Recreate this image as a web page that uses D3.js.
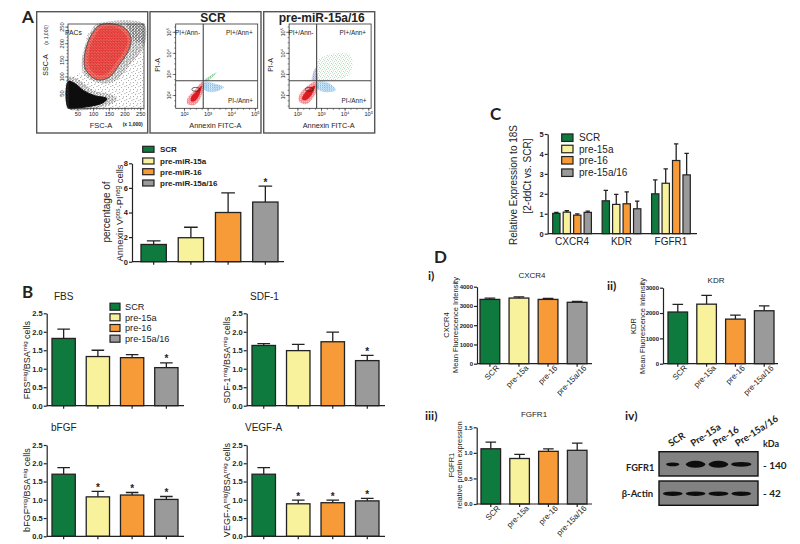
<!DOCTYPE html>
<html>
<head>
<meta charset="utf-8">
<script src="https://cdnjs.cloudflare.com/ajax/libs/d3/7.8.5/d3.min.js"></script>
<style>
  html, body { margin: 0; padding: 0; background: #fff; }
  svg { display: block; }
  text { font-family: "Liberation Sans", Arial, sans-serif; fill: #222; }
  .lato { font-family: Lato, "Open Sans", sans-serif; font-weight: 700; }
</style>
</head>
<body>
<svg id="fig" width="800" height="544"></svg>
<script>
// groups
const longNames = ["SCR", "pre-miR-15a", "pre-miR-16", "pre-miR-15a/16"];
const shortNames = ["SCR", "pre-15a", "pre-16", "pre-15a/16"];
const barColors = ["#0f7a3e", "#f8f29c", "#f79a38", "#9a9a9a"];

// A, bar chart
const annexinMeans = [1.4, 1.95, 4.0, 4.85];
const annexinErrs = [0.3, 0.85, 1.6, 1.3];
const annexinStars = ["pre-miR-15a/16"];

// B
const fbsMeans = [1.82, 1.33, 1.3, 1.03];
const fbsErrs = [0.25, 0.17, 0.08, 0.13];
const fbsStars = ["pre-15a/16"];
const sdfMeans = [1.63, 1.49, 1.73, 1.22];
const sdfErrs = [0.05, 0.17, 0.26, 0.14];
const sdfStars = ["pre-15a/16"];
const bfgfMeans = [1.7, 1.08, 1.13, 1.01];
const bfgfErrs = [0.18, 0.15, 0.07, 0.08];
const bfgfStars = ["pre-15a", "pre-16", "pre-15a/16"];
const vegfMeans = [1.7, 0.89, 0.92, 0.97];
const vegfErrs = [0.18, 0.1, 0.07, 0.07];
const vegfStars = ["pre-15a", "pre-16", "pre-15a/16"];

// C
const genes = ["CXCR4", "KDR", "FGFR1"];
const expressionMeans = [[1.02, 1.08, 0.93, 1.07], [1.65, 1.47, 1.5, 1.25], [2.0, 2.53, 3.67, 2.95]];
const expressionErrs = [[0.05, 0.07, 0.06, 0.06], [0.52, 0.5, 0.6, 0.38], [0.7, 0.72, 0.83, 1.08]];

// D
const cxcrMeans = [3340, 3410, 3340, 3190];
const cxcrErrs = [70, 60, 50, 40];
const kdrMeans = [2040, 2350, 1760, 2090];
const kdrErrs = [300, 350, 160, 190];
const fgfrMeans = [1.08, 0.89, 1.03, 1.05];
const fgfrErrs = [0.13, 0.08, 0.05, 0.14];

// D iv, blot
const lanes = ["SCR", "Pre-15a", "Pre-16", "Pre-15a/16"];
const fgfrBand = [0.62, 0.92, 0.92, 0.95];
const fgfrBandThick = [0.55, 1, 1, 0.7];
const actinBand = [0.92, 0.92, 0.94, 0.92];
const actinBandThick = [0.65, 0.65, 0.65, 0.65];

// A, flow plots. outlines, FSC/SSC in thousands
const fscTicks = [50, 100, 150, 200, 250];
const sscTicks = [50, 100, 150, 200, 250];
const pacsGate = [[122, 255], [165, 258], [202, 245], [221, 215], [213, 179], [186, 139], [149, 96], [112, 90], [80, 114], [71, 144], [82, 199], [101, 235]];
const pacsCore = [[125, 245], [165, 250], [195, 235], [210, 210], [200, 180], [175, 145], [145, 110], [115, 105], [90, 125], [85, 150], [92, 195], [108, 225]];
const debrisCloud = [[21, 85], [43, 78], [69, 58], [101, 43], [144, 33], [130, 20], [90, 10], [50, 5], [21, 5]];
const debrisHalo = [[21, 98], [58, 88], [101, 58], [165, 43], [175, 28], [122, 7], [21, 4]];
const sparseCloud = [[21, 93], [69, 114], [80, 230], [122, 258], [262, 258], [262, 4], [21, 4]];
const haloCloud = [[112, 258], [262, 258], [262, 190], [230, 150], [165, 84], [112, 82], [70, 108], [64, 149], [78, 205], [95, 240]];
const cornerCloud = [[205, 258], [262, 258], [262, 200], [232, 205]];

// annexin/PI outlines, log10 of the signal
const decades = [2, 3, 4, 5];
const decadeLabels = ["10²", "10³", "10⁴", "10⁵"];
const quadrant = [2.815, 2.68];
const scrRed = [[2.15, 1.85], [2.46, 2.23], [2.77, 2.62], [2.85, 2.43], [2.69, 1.85], [2.46, 1.54], [2.15, 1.57]];
const scrRedCore = [[2.3, 1.9], [2.55, 2.2], [2.75, 2.45], [2.65, 2.0], [2.45, 1.7], [2.3, 1.7]];
const scrBlue = [[2.85, 2.62], [3.31, 2.54], [3.69, 2.38], [3.31, 2.15], [2.88, 2.23]];
const scrGreen = [[2.85, 2.69], [3.38, 3.08], [3.03, 2.69]];
const mirRed = [[2.08, 2.0], [2.38, 2.38], [2.77, 2.62], [2.85, 2.31], [2.69, 1.92], [2.38, 1.57], [2.08, 1.69]];
const mirRedCore = [[2.25, 2.0], [2.5, 2.3], [2.75, 2.45], [2.6, 2.0], [2.35, 1.75], [2.2, 1.8]];
const mirBlue = [[2.85, 2.62], [3.38, 2.54], [3.62, 2.23], [3.08, 2.15], [2.85, 2.31]];
const mirPurple = [[2.62, 2.69], [2.77, 3.31], [2.85, 2.69]];
const mirGreen = [[2.85, 2.69], [2.92, 3.69], [4.23, 3.92], [4.23, 3.0], [3.46, 2.69]];

const svg = d3.select("#fig");
const defs = svg.append("defs");

// speckle fills for the flow clouds, dots placed by hand in a small tile
function speckle(id, color, size, dots, dot, bg) {
  const p = defs.append("pattern").attr("id", id).attr("patternUnits", "userSpaceOnUse").attr("width", size).attr("height", size);
  if (bg) p.append("rect").attr("width", size).attr("height", size).attr("fill", bg);
  dots.forEach((d) => p.append("rect").attr("x", d[0]).attr("y", d[1]).attr("width", dot).attr("height", dot).attr("fill", color));
}
speckle("sparse", "#222", 7, [[0.5, 1], [3.5, 0.2], [5.6, 2.4], [2.1, 3.4], [0.2, 5.2], [4.3, 5.6]], 0.65);
speckle("halo", "#111", 3, [[0.2, 0.4], [1.6, 0.1], [0.9, 1.2], [2.2, 1.4], [0.2, 2.2], [1.5, 2.4]], 0.55);
speckle("gate", "#e02028", 3, [[0.2, 0.2], [1.6, 0.5], [0.8, 1.4], [2.2, 1.7], [0.1, 2.3], [1.5, 2.4]], 0.8, "#ee8a78");
speckle("core", "#e01c20", 2.4, [[0.1, 0.2], [1.3, 0.1], [0.6, 1.2], [1.7, 1.3]], 0.75);
speckle("redDots", "#e22026", 2, [[0.1, 0.2], [1.1, 0.1], [0.6, 1.1], [1.5, 1.2]], 0.7);
speckle("blueDots", "#3f9be0", 2.2, [[0.2, 0.4], [1.3, 0.2], [0.8, 1.3], [1.7, 1.5]], 0.75);
speckle("greenDots", "#35a545", 2.2, [[0.2, 0.4], [1.3, 0.2], [0.8, 1.3], [1.7, 1.5]], 0.75);
speckle("paleGreen", "#62b868", 4, [[0.3, 0.5], [2.4, 1.1], [1.1, 2.6], [3.2, 3.2]], 0.7);
speckle("purpleDots", "#4a55bd", 2.4, [[0.2, 0.4], [1.4, 0.2], [0.8, 1.4], [1.8, 1.7]], 0.75);
defs.append("filter").attr("id", "soft").attr("x", "-20%").attr("y", "-60%").attr("width", "140%").attr("height", "220%")
  .append("feGaussianBlur").attr("stdDeviation", 0.7);
defs.append("filter").attr("id", "cloud").attr("x", "-5%").attr("y", "-5%").attr("width", "110%").attr("height", "110%")
  .append("feGaussianBlur").attr("stdDeviation", 0.35);

function label(x, y, str, size, opts) {
  const o = opts || {};
  return svg.append("text").attr("x", x).attr("y", y).attr("font-size", size)
    .attr("font-weight", o.bold ? 700 : 400).attr("text-anchor", o.anchor || "start")
    .attr("class", o.cls || null).text(str);
}

// rotated axis title, parts = [text, isSuper]
function yTitle(x, cy, parts, size) {
  const t = svg.append("text").attr("transform", `translate(${x},${cy}) rotate(-90)`)
    .attr("text-anchor", "middle").attr("font-size", size);
  parts.forEach((p) => {
    const s = t.append("tspan").text(p[0]);
    if (p[1]) s.attr("baseline-shift", "super").attr("font-size", size * 0.68);
  });
}

function styleAxis(g, size, bold) {
  g.selectAll("path,line").attr("stroke", "#222").attr("stroke-width", 1.2);
  g.selectAll("text").attr("font-size", size).attr("font-weight", bold ? 700 : 400).attr("font-family", null);
}

function barChart(c) {
  const x = d3.scaleBand().domain(c.names).range([c.x0, c.x1]).paddingInner(0.32).paddingOuter(0);
  const y = d3.scaleLinear().domain([0, c.max]).range([c.y0, c.y1]);
  const rows = c.names.map((n, i) => ({ name: n, mean: c.means[i], err: c.errs[i], color: barColors[i] }));
  const g = svg.append("g");

  g.selectAll(".err").data(rows).enter().append("path")
    .attr("d", (d) => {
      const cx = x(d.name) + x.bandwidth() / 2, top = y(d.mean + d.err), cap = x.bandwidth() * 0.27;
      return `M${cx},${y(d.mean)}V${top}M${cx - cap},${top}H${cx + cap}`;
    })
    .attr("fill", "none").attr("stroke", "#222").attr("stroke-width", 1.3);

  g.selectAll(".bar").data(rows).enter().append("rect")
    .attr("x", (d) => x(d.name)).attr("y", (d) => y(d.mean))
    .attr("width", x.bandwidth()).attr("height", (d) => y(0) - y(d.mean))
    .attr("fill", (d) => d.color).attr("stroke", "#222").attr("stroke-width", 1.3);

  g.selectAll(".star").data(rows.filter((d) => (c.stars || []).includes(d.name))).enter().append("text")
    .attr("x", (d) => x(d.name) + x.bandwidth() / 2).attr("y", (d) => y(d.mean + d.err) - 0.5)
    .attr("text-anchor", "middle").attr("font-size", 10).attr("font-weight", 700).text("*");

  const ax = g.append("g").attr("transform", `translate(${c.axisX},0)`)
    .call(d3.axisLeft(y).tickValues(c.ticks).tickFormat(c.fmt).tickSize(3).tickSizeOuter(0).tickPadding(1));
  styleAxis(ax, c.tickSize || 7.5, true);

  const bx = g.append("g").attr("transform", `translate(0,${c.y0})`)
    .call(d3.axisBottom(x).tickSize(3).tickSizeOuter(0));
  bx.select(".domain").attr("d", `M${c.axisX},0H${c.axisEnd}`);
  styleAxis(bx, 8, false);
  if (c.rotate) {
    bx.selectAll("text").attr("text-anchor", "end").attr("dx", "0.45em").attr("dy", "0.55em")
      .attr("transform", "rotate(-45)");
  } else {
    bx.selectAll("text").remove();
  }
}

function legend(x, ys, names, w, h, textX, size, bold) {
  names.forEach((n, i) => {
    svg.append("rect").attr("x", x).attr("y", ys[i] - h / 2).attr("width", w).attr("height", h)
      .attr("fill", barColors[i]).attr("stroke", "#222").attr("stroke-width", 1.2);
    label(textX, ys[i] + size * 0.36, n, size, { bold: bold });
  });
}

// ---- panel A flow plots
function frame(x, y, w, h) {
  svg.append("rect").attr("x", x).attr("y", y).attr("width", w).attr("height", h)
    .attr("fill", "#fff").attr("stroke", "#555").attr("stroke-width", 1.4);
}
frame(36.7, 11.7, 111, 121.3);
frame(150, 11.7, 111, 121.3);
frame(263.7, 11.7, 111, 121.3);

const blob = d3.line().curve(d3.curveCatmullRomClosed.alpha(0.5));

function flowAxes(x, y, xVals, yVals, xFmt, yFmt, xMinor, yMinor) {
  const [l, r] = x.range(), [b, t] = y.range();
  svg.append("rect").attr("x", l).attr("y", t).attr("width", r - l).attr("height", b - t)
    .attr("fill", "none").attr("stroke", "#333").attr("stroke-width", 0.8);
  const ax = svg.append("g").attr("transform", `translate(0,${b})`)
    .call(d3.axisBottom(x).tickValues(xVals).tickFormat(xFmt).tickSize(3).tickSizeOuter(0).tickPadding(1));
  const mx = svg.append("g").attr("transform", `translate(0,${b})`)
    .call(d3.axisBottom(x).tickValues(xMinor).tickFormat("").tickSize(1.5).tickSizeOuter(0));
  const ay = svg.append("g").attr("transform", `translate(${l},0)`)
    .call(d3.axisLeft(y).tickValues(yVals).tickFormat(yFmt).tickSize(3).tickSizeOuter(0).tickPadding(1));
  const my = svg.append("g").attr("transform", `translate(${l},0)`)
    .call(d3.axisLeft(y).tickValues(yMinor).tickFormat("").tickSize(1.5).tickSizeOuter(0));
  [ax, mx, ay, my].forEach((g) => {
    g.select(".domain").remove();
    g.selectAll("line").attr("stroke", "#333").attr("stroke-width", 0.6);
    g.selectAll("text").attr("font-size", 5.6).attr("font-family", null);
  });
  ay.selectAll("text").attr("text-anchor", "middle").attr("dy", 0)
    .attr("x", 0).attr("y", -4.5).attr("transform", "rotate(-90)");
}

// scatter FSC vs SSC
const fscX = d3.scaleLinear().domain([20, 262]).range([68, 144]);
const sscY = d3.scaleLinear().domain([4, 258]).range([108.3, 24]);
const fsPt = (d) => [fscX(d[0]), sscY(d[1])];
const fsClouds = svg.append("g").attr("filter", "url(#cloud)");
fsClouds.append("path").attr("d", d3.line()(sparseCloud.map(fsPt)) + "Z").attr("fill", "url(#sparse)");
fsClouds.append("path").attr("d", blob(haloCloud.map(fsPt))).attr("fill", "url(#halo)");
fsClouds.append("path").attr("d", d3.line()(cornerCloud.map(fsPt)) + "Z").attr("fill", "url(#halo)");
fsClouds.append("path").attr("d", blob(debrisHalo.map(fsPt))).attr("fill", "url(#halo)");
fsClouds.append("path").attr("d", blob(debrisCloud.map(fsPt))).attr("fill", "#0c0c0c").attr("stroke", "#0c0c0c").attr("stroke-width", 1);
fsClouds.append("path").attr("d", blob(pacsGate.map(fsPt))).attr("fill", "url(#gate)");
fsClouds.append("path").attr("d", blob(pacsCore.map(fsPt))).attr("fill", "url(#core)");
svg.append("path").attr("d", blob(pacsGate.map(fsPt))).attr("fill", "none").attr("stroke", "#444").attr("stroke-width", 0.8);
flowAxes(fscX, sscY, fscTicks, sscTicks, d3.format("d"), d3.format("d"), d3.range(30, 262, 10), d3.range(10, 258, 10));
label(65, 35, "PACs", 6.8);
label(101, 127.5, "FSC-A", 7.5, { anchor: "middle" });
label(132.7, 125.5, "(x 1,000)", 5, { anchor: "middle", bold: true });
yTitle(48, 65, [["SSC-A"]], 7);
yTitle(48, 35, [["(x 1,000)"]], 5);

function annexinPlot(dx, layers) {
  const xs = d3.scaleLinear().domain([1.65, 5.12]).range([175.7 + dx, 257.7 + dx]);
  const ys = d3.scaleLinear().domain([1.37, 5.37]).range([108.3, 24]);
  const pt = (d) => [xs(d[0]), ys(d[1])];
  const clouds = svg.append("g").attr("filter", "url(#cloud)");
  layers.forEach((l) => {
    clouds.append("path").attr("d", blob(l.shape.map(pt))).attr("fill", l.fill === "solid" ? "#dc1c20" : `url(#${l.fill})`);
  });
  flowAxes(xs, ys, decades, decades, (d) => decadeLabels[decades.indexOf(d)], (d) => decadeLabels[decades.indexOf(d)],
    d3.range(2, 5.1, 0.25), d3.range(1.5, 5.3, 0.25));
  svg.append("path").attr("d", `M${xs(quadrant[0])},24V108.3M${175.7 + dx},${ys(quadrant[1])}H${257.7 + dx}`)
    .attr("fill", "none").attr("stroke", "#444").attr("stroke-width", 1.1);
  svg.append("ellipse").attr("cx", xs(2.5)).attr("cy", ys(2.27)).attr("rx", 4).attr("ry", 2)
    .attr("fill", "none").attr("stroke", "#222").attr("stroke-width", 0.7);
  label(175 + dx, 35, "PI+/Ann-", 6.4);
  label(226 + dx, 35, "PI+/Ann+", 6.4);
  label(228 + dx, 103, "PI-/Ann+", 6.4);
  label(215.3 + dx, 128, "Annexin FITC-A", 7.3, { anchor: "middle" });
  yTitle(160 + dx, 65, [["PI-A"]], 7);
}
annexinPlot(0, [
  { shape: scrGreen, fill: "greenDots" },
  { shape: scrBlue, fill: "blueDots" },
  { shape: scrRed, fill: "redDots" },
  { shape: scrRedCore, fill: "solid" },
]);
annexinPlot(113.4, [
  { shape: mirGreen, fill: "paleGreen" },
  { shape: mirPurple, fill: "purpleDots" },
  { shape: mirBlue, fill: "blueDots" },
  { shape: mirRed, fill: "redDots" },
  { shape: mirRedCore, fill: "solid" },
]);
label(213, 21.7, "SCR", 12, { bold: true, anchor: "middle" });
label(321.7, 21.7, "pre-miR-15a/16", 12, { bold: true, anchor: "middle" });

// ---- panel letters
label(22, 23, "A", 17, { cls: "lato" });
label(22, 298, "B", 17, { cls: "lato" });
label(490, 120, "C", 17, { cls: "lato" });
label(434, 263, "D", 17, { cls: "lato" });
label(428, 280, "i)", 12, { cls: "lato" });
label(607, 290, "ii)", 12, { cls: "lato" });
label(425, 420, "iii)", 12, { cls: "lato" });
label(625, 420, "iv)", 12, { cls: "lato" });

// ---- A, bars
barChart({ names: longNames, means: annexinMeans, errs: annexinErrs, stars: annexinStars, max: 8, ticks: [0, 2, 4, 6, 8],
  fmt: d3.format("d"), x0: 141, x1: 278, y0: 261.7, y1: 163.3, axisX: 132, axisEnd: 284, tickSize: 7.5 });
legend(142.7, [149.3, 161, 171.7, 183], longNames, 11.3, 6, 160, 8, true);
yTitle(110, 212, [["percentage of"]], 10);
yTitle(123, 213, [["Annexin V"], ["pos", true], ["-PI"], ["neg", true], [" cells"]], 9.4);

// ---- B
const bTicks = [0, 0.5, 1, 1.5, 2, 2.5];
const f1 = d3.format(".1f");
const bLeft = { x0: 52, x1: 178, axisX: 46.7, axisEnd: 184 };
const bRight = { x0: 252, x1: 379, axisX: 246.7, axisEnd: 385 };
const bTop = { y0: 405.7, y1: 313.3 };
const bLow = { y0: 536.3, y1: 445 };
barChart({ names: shortNames, means: fbsMeans, errs: fbsErrs, stars: fbsStars, max: 2.5, ticks: bTicks, fmt: f1, ...bLeft, ...bTop });
barChart({ names: shortNames, means: sdfMeans, errs: sdfErrs, stars: sdfStars, max: 2.5, ticks: bTicks, fmt: f1, ...bRight, ...bTop });
barChart({ names: shortNames, means: bfgfMeans, errs: bfgfErrs, stars: bfgfStars, max: 2.5, ticks: bTicks, fmt: f1, ...bLeft, ...bLow });
barChart({ names: shortNames, means: vegfMeans, errs: vegfErrs, stars: vegfStars, max: 2.5, ticks: bTicks, fmt: f1, ...bRight, ...bLow });
legend(110, [306.7, 317.3, 328, 338.7], shortNames, 10, 7, 125, 9.2, false);
label(54, 300, "FBS", 10);
label(250, 300, "SDF-1", 10);
label(51, 431, "bFGF", 10);
label(245, 431, "VEGF-A", 10);
yTitle(30, 360, [["FBS"], ["mig", true], ["/BSA"], ["mig", true], [" cells"]], 9);
yTitle(230, 360, [["SDF-1"], ["mig", true], ["/BSA"], ["mig", true], [" cells"]], 9);
yTitle(30, 490, [["bFGF"], ["mig", true], ["/BSA"], ["mig", true], [" cells"]], 9);
yTitle(230, 490, [["VEGF-A"], ["mig", true], ["/BSA"], ["mig", true], [" cells"]], 9);

// ---- C, grouped bars
const cX = d3.scaleBand().domain(genes).range([552.7, 690.3]).paddingInner(0.217).paddingOuter(0);
const cSub = d3.scaleBand().domain(shortNames).range([0, cX.bandwidth()]).paddingInner(0.3).paddingOuter(0);
const cY = d3.scaleLinear().domain([0, 5]).range([233.7, 134]);
const cRows = genes.flatMap((gene, i) => shortNames.map((n, j) => ({
  gene: gene, name: n, mean: expressionMeans[i][j], err: expressionErrs[i][j], color: barColors[j],
})));
const cG = svg.append("g");
cG.selectAll("path.err").data(cRows).enter().append("path").attr("class", "err")
  .attr("d", (d) => {
    const cx = cX(d.gene) + cSub(d.name) + cSub.bandwidth() / 2, top = cY(d.mean + d.err);
    return `M${cx},${cY(d.mean)}V${top}M${cx - 2.2},${top}H${cx + 2.2}`;
  })
  .attr("fill", "none").attr("stroke", "#222").attr("stroke-width", 1.3);
cG.selectAll("rect").data(cRows).enter().append("rect")
  .attr("x", (d) => cX(d.gene) + cSub(d.name)).attr("y", (d) => cY(d.mean))
  .attr("width", cSub.bandwidth()).attr("height", (d) => cY(0) - cY(d.mean))
  .attr("fill", (d) => d.color).attr("stroke", "#222").attr("stroke-width", 1.2);
const cAy = cG.append("g").attr("transform", "translate(547.7,0)")
  .call(d3.axisLeft(cY).ticks(5).tickFormat(d3.format("d")).tickSize(3).tickSizeOuter(0).tickPadding(1));
styleAxis(cAy, 7.5, true);
const cAx = cG.append("g").attr("transform", "translate(0,233.7)")
  .call(d3.axisBottom(cX).tickSize(0).tickPadding(4));
cAx.select(".domain").attr("d", "M547.7,0H697");
styleAxis(cAx, 10, false);
legend(561.7, [137.7, 149, 160.3, 172.7], shortNames, 11.3, 7.5, 579, 10, false);
yTitle(517, 185, [["Relative Expression to 18S"]], 10);
yTitle(531, 176, [["[2-ddCt vs. SCR]"]], 10);

// ---- D, bars with slanted labels
const dLabels = { rotate: true, names: shortNames };
barChart({ ...dLabels, means: cxcrMeans, errs: cxcrErrs, max: 4000, ticks: [0, 1000, 2000, 3000, 4000], fmt: d3.format("d"),
  x0: 480, x1: 587, y0: 363.7, y1: 286.7, axisX: 477, axisEnd: 592, tickSize: 6 });
barChart({ ...dLabels, means: kdrMeans, errs: kdrErrs, max: 3000, ticks: [0, 1000, 2000, 3000], fmt: d3.format("d"),
  x0: 668, x1: 774, y0: 363.7, y1: 287.7, axisX: 663, axisEnd: 778, tickSize: 6 });
barChart({ ...dLabels, means: fgfrMeans, errs: fgfrErrs, max: 1.5, ticks: [0, 0.5, 1, 1.5], fmt: f1,
  x0: 481, x1: 587, y0: 504, y1: 427.3, axisX: 476.7, axisEnd: 592, tickSize: 6 });
label(532, 278, "CXCR4", 8, { anchor: "middle" });
label(716, 283, "KDR", 8, { anchor: "middle" });
label(534, 417, "FGFR1", 8, { anchor: "middle" });
yTitle(449, 325, [["CXCR4"]], 7.5);
yTitle(458, 325, [["Mean Fluorescence Intensity"]], 7.5);
yTitle(636, 326, [["KDR"]], 7.5);
yTitle(645, 326, [["Mean Fluorescence Intensity"]], 7.5);
yTitle(454, 465, [["FGFR1"]], 7.5);
yTitle(462, 465, [["relative protein expression"]], 7.5);

// ---- D iv, blot
const laneX = d3.scaleBand().domain(lanes).range([662, 752]).paddingInner(0.06);
function blot(top, bottom, widths, thick) {
  svg.append("rect").attr("x", 659).attr("y", top).attr("width", 99).attr("height", bottom - top)
    .attr("fill", "#828282").attr("stroke", "#111").attr("stroke-width", 1.4);
  const bh = d3.scaleLinear().domain([0, 1]).range([0, 7]);
  svg.append("g").selectAll("ellipse").data(lanes).enter().append("ellipse")
    .attr("cx", (d) => laneX(d) + laneX.bandwidth() / 2).attr("cy", (top + bottom) / 2 + 0.5)
    .attr("rx", (d, i) => laneX.bandwidth() / 2 * widths[i]).attr("ry", (d, i) => bh(thick[i]) / 2)
    .attr("fill", "#111").attr("filter", "url(#soft)");
}
blot(451.7, 476, fgfrBand, fgfrBandThick);
blot(481, 505.3, actinBand, actinBandThick);
const laneStart = d3.scaleBand().domain(lanes).range([671, 760]);
lanes.forEach((n) => {
  svg.append("text").attr("class", "lato").attr("font-size", 9.5)
    .attr("transform", `translate(${laneStart(n)},447) rotate(-33)`).text(n);
});
label(763, 447, "kDa", 9, { cls: "lato" });
label(763, 469, "- 140", 10, { cls: "lato" });
label(763, 497, "- 42", 10, { cls: "lato" });
label(626, 470.7, "FGFR1", 9.2, { cls: "lato" });
label(621.7, 497, "β-Actin", 9.5, { cls: "lato" });
</script>
</body>
</html>
